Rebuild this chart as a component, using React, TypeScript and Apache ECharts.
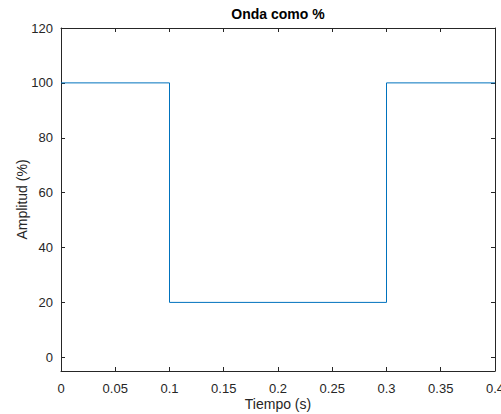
import React, { useEffect, useRef } from "react";
import * as echarts from "echarts";

const timeValues = [0, 0.1, 0.1, 0.3, 0.3, 0.4];
const amplitudeValues = [100, 100, 20, 20, 100, 100];
const yTicks = [0, 20, 40, 60, 80, 100, 120];

const FONT = "Liberation Sans, Helvetica, Arial, sans-serif";
const AX = "#262626";

export default function App() {
  const ref = useRef<HTMLDivElement>(null);
  useEffect(() => {
    if (!ref.current) return;
    const chart = echarts.init(ref.current, null, { renderer: "svg" });
    const fmtX = (v: number) => String(Math.round(v * 100) / 100);
    const baseX = {
      type: "value" as const,
      min: 0,
      max: 0.4,
      interval: 0.05,
      axisLine: { show: true, onZero: false, lineStyle: { color: AX, width: 1 } },
      axisTick: { show: true, inside: true, length: 4, lineStyle: { color: AX } },
      splitLine: { show: false },
    };
    const baseY = {
      type: "value" as const,
      min: -5,
      max: 120,
      axisLine: { show: true, onZero: false, lineStyle: { color: AX, width: 1 } },
      axisTick: { show: true, inside: true, length: 4, customValues: yTicks, lineStyle: { color: AX } },
      splitLine: { show: false },
    };
    chart.setOption({
      animation: false,
      graphic: [
        {
          type: "text",
          x: 278,
          y: 14,
          style: {
            text: "Onda como %",
            textAlign: "center",
            textVerticalAlign: "middle",
            fontFamily: FONT,
            fontSize: 14,
            fontWeight: "bold",
            fill: "#000",
          },
        },
      ],
      grid: { left: 61, right: 6, top: 28, bottom: 43, containLabel: false, outerBoundsMode: "none" },
      xAxis: [
        {
          ...baseX,
          position: "bottom",
          name: "Tiempo (s)",
          nameLocation: "middle",
          nameGap: 26,
          nameMoveOverlap: false,
          nameTextStyle: { fontFamily: FONT, fontSize: 14, color: AX },
          axisLabel: {
            show: true,
            margin: 11,
            fontFamily: FONT,
            fontSize: 13,
            color: AX,
            formatter: fmtX,
            showMaxLabel: true,
            hideOverlap: false,
          },
        },
        {
          ...baseX,
          position: "top",
          axisLabel: { show: false },
        },
      ],
      yAxis: [
        {
          ...baseY,
          position: "left",
          name: "Amplitud (%)",
          nameLocation: "middle",
          nameGap: 32,
          nameMoveOverlap: false,
          nameRotate: 90,
          nameTextStyle: { fontFamily: FONT, fontSize: 14, color: AX },
          axisLabel: {
            show: true,
            margin: 8,
            fontFamily: FONT,
            fontSize: 13,
            color: AX,
            customValues: yTicks,
          },
        },
        {
          ...baseY,
          position: "right",
          axisLabel: { show: false, customValues: yTicks },
        },
      ],
      series: [
        {
          type: "line",
          xAxisIndex: 0,
          yAxisIndex: 0,
          data: timeValues.map((t, i) => [t, amplitudeValues[i]]),
          showSymbol: false,
          symbol: "none",
          lineStyle: { color: "#0072BD", width: 1 },
          clip: false,
        },
      ],
    });
    return () => chart.dispose();
  }, []);
  return <div ref={ref} style={{ width: 501, height: 414, position: "absolute", left: 0, top: 0 }} />;
}
